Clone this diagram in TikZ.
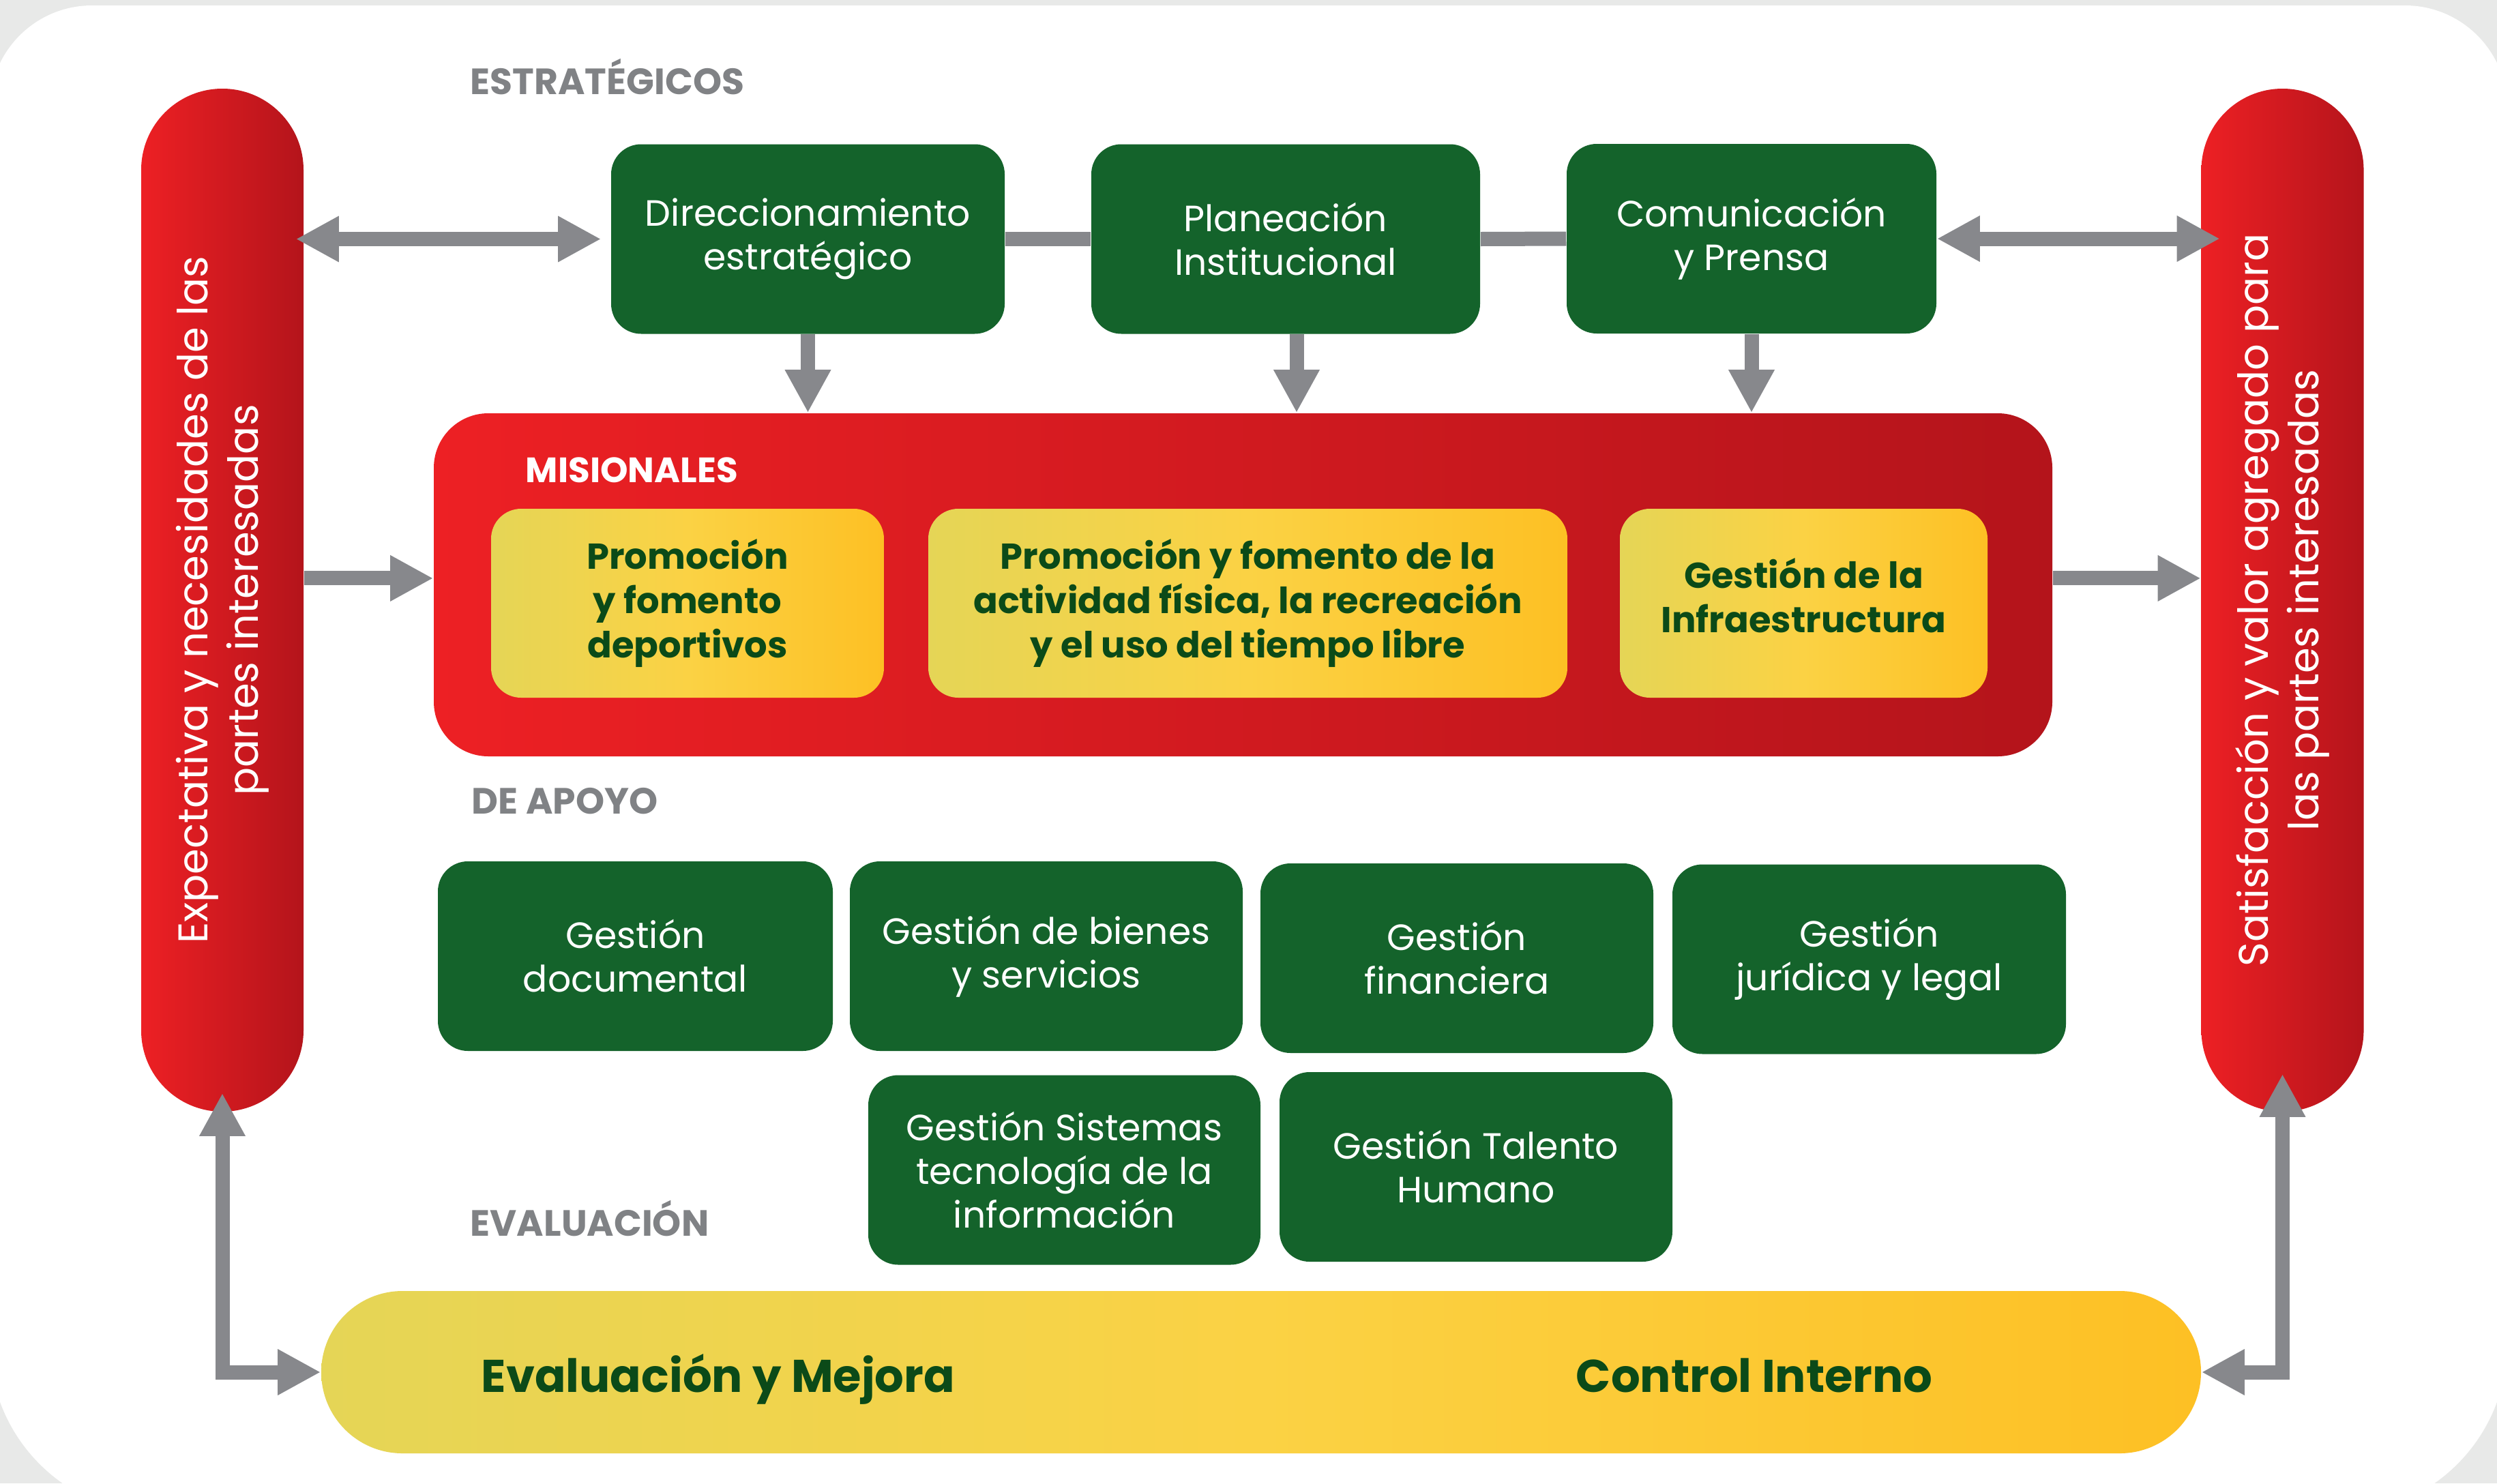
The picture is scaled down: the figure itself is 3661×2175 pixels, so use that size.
\documentclass[tikz,border=0pt]{standalone}
\usepackage{fontspec}
\setmainfont{Poppins}
\usetikzlibrary{arrows.meta}
\definecolor{boxgreen}{RGB}{20,99,43}
\definecolor{txtgreen}{RGB}{11,74,24}
\definecolor{arrgrey}{RGB}{135,136,140}
\definecolor{headgrey}{RGB}{128,130,133}
\definecolor{redL}{RGB}{237,32,36}
\definecolor{redR}{RGB}{180,20,27}
\definecolor{yelL}{RGB}{229,213,86}
\definecolor{yelM}{RGB}{251,210,68}
\definecolor{yelR}{RGB}{253,192,36}
\definecolor{bggrey}{RGB}{232,233,232}
\newcommand{\myreg}{\fontsize{13.4pt}{16pt}\selectfont}
\newcommand{\mybold}{\fontsize{13.2pt}{16.25pt}\selectfont\bfseries}
\newcommand{\mypill}{\fontsize{15.2pt}{18.5pt}\selectfont}
\newcommand{\myhead}{\fontsize{13.4pt}{15pt}\selectfont\bfseries}
\newcommand{\mymis}{\fontsize{12.9pt}{14pt}\selectfont\bfseries}
\newcommand{\mybar}{\fontsize{16.8pt}{20pt}\selectfont\bfseries}
\begin{document}
\begin{tikzpicture}[x=0.25pt, y=-0.25pt,
  gbox/.style={rectangle, rounded corners=11pt, fill=boxgreen, text=white, align=center, inner sep=0pt, font=\myreg, minimum height=69.5pt},
  ybox/.style={rectangle, rounded corners=11pt, left color=yelL, right color=yelR, middle color=yelM, text=txtgreen, align=center, inner sep=0pt, font=\mybold, minimum height=69.25pt},
  pill/.style={rectangle, rounded corners=29.75pt, left color=redL, right color=redR, inner sep=0pt, minimum width=59.5pt, minimum height=375pt},
  head/.style={font=\myhead, text=headgrey, anchor=base west, inner sep=0pt},
  tipT/.tip={Triangle[length=15.75pt, width=15.75pt]},
  arr/.style={draw=arrgrey, line width=5.25pt, -tipT},
  darr/.style={draw=arrgrey, line width=5.25pt, tipT-tipT},
  link/.style={draw=arrgrey, line width=5.25pt}
]
\useasboundingbox (0,0) rectangle (3661,2175);
% background
\fill[bggrey] (0,0) rectangle (3661,2175);
\fill[white, rounded corners=37.5pt] (-15,1000) -- (-15,8) -- (3676,8) [rounded corners=62.5pt] -- (3676,2220) -- (-15,2220) -- cycle;

% side pills
\node[pill] (lp) at (326,880) {};
\node[pill] (rp) at (3346.5,880) {};
\node[rotate=90, align=center, font=\mypill, text=white] (lpt) at (lp.center) {Expectativa y necesidades de las\\partes interesadas};
\node[rotate=90, align=center, font=\mypill, text=white] (rpt) at (rp.center) {Satisfacción y valor agregado para\\las partes interesadas};

% headings
\node[head] (hest) at (689,138) {ESTRATÉGICOS};
\node[head] (hapo) at (691,1193) {DE APOYO};
\node[head] (heva) at (689,1812) {EVALUACIÓN};

% strategic
\node[gbox, minimum width=144.25pt] (dir) at (1184.5,350.5) {Direccionamiento\\estratégico};
\node[gbox, minimum width=142.5pt] (plan) at (1885,350.5) {Planeación\\Institucional};
\node[gbox, minimum width=135.5pt] (com) at (2568,350) {Comunicación\\y Prensa};

% misionales
\node[rectangle, rounded corners=20pt, left color=redL, right color=redR, minimum width=593.25pt, minimum height=125.75pt, inner sep=0pt] (mis) at (1822.5,857.5) {};
\node[font=\mymis, text=white, anchor=base west, inner sep=0pt] (hmis) at (770,707) {MISIONALES};
\node[ybox, minimum width=144pt] (y1) at (1008,884.5) {Promoción\\y fomento\\deportivos};
\node[ybox, minimum width=234.25pt] (y2) at (1829.5,884.5) {Promoción y fomento de la\\actividad física, la recreación\\y el uso del tiempo libre};
\node[ybox, minimum width=134.75pt] (y3) at (2644.5,884.5) {};
\node[font=\mybold, text=txtgreen, align=center, inner sep=0pt] (y3t) at (2644.5,873) {Gestión de la\\Infraestructura};

% apoyo
\node[gbox, minimum width=144.75pt] (doc) at (931.5,1402) {Gestión\\documental};
\node[gbox, minimum width=144pt] (bie) at (1534,1402) {Gestión de bienes\\y servicios};
\node[gbox, minimum width=144pt] (fin) at (2136,1405) {Gestión\\financiera};
\node[gbox, minimum width=144.25pt] (jur) at (2740.5,1406.5) {Gestión\\jurídica y legal};
\node[gbox, minimum width=143.75pt] (sis) at (1560.5,1715.5) {Gestión Sistemas\\tecnología de la\\información};
\node[gbox, minimum width=144pt] (tal) at (2164,1711) {Gestión Talento\\Humano};

% evaluation bar
\node[rectangle, rounded corners=29.75pt, left color=yelL, right color=yelR, middle color=yelM, minimum width=689pt, minimum height=59.5pt, inner sep=0pt] (bar) at (1849,2012) {};
\node[font=\mybar, text=txtgreen, anchor=base west, inner sep=0pt] (tev) at (705,2041) {Evaluación y Mejora};
\node[font=\mybar, text=txtgreen, anchor=base west, inner sep=0pt] (tci) at (2310,2041) {Control Interno};

% connectors
\draw[link] (dir.east) -- (plan.west);
\draw[link] (plan.east) -- (com.west);
\draw[darr] ([xshift=-3pt]lp.east |- dir.west) -- ([xshift=-3.5pt]dir.west);
\draw[darr] (com.east) -- ([xshift=7pt]rp.west |- com.east);
\draw[arr] (dir.south) -- (dir.south |- mis.north);
\draw[arr] ([xshift=4pt]plan.south) -- ([xshift=4pt]plan.south |- mis.north);
\draw[arr] (com.south) -- (com.south |- mis.north);
\draw[arr] ([yshift=2.4pt]lp.east |- mis.west) -- ([yshift=2.4pt]mis.west);
\draw[arr] ([yshift=2.4pt]mis.east) -- ([yshift=2.4pt]rp.west |- mis.east);
\draw[darr] ([yshift=7pt]lp.south) |- (bar.west);
\draw[darr] ([yshift=14pt]rp.south) |- (bar.east);
\end{tikzpicture}
\end{document}
